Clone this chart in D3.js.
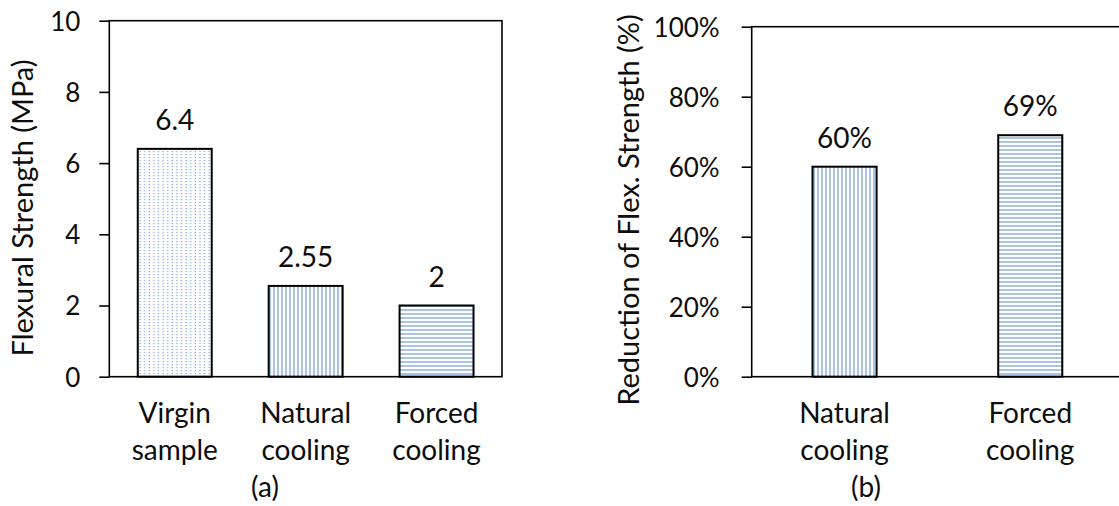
<!DOCTYPE html>
<html>
<head>
<meta charset="utf-8">
<script src="https://cdn.jsdelivr.net/npm/d3@7"></script>
<style>
  html, body { margin: 0; padding: 0; background: #fff; }
  svg { display: block; }
  text { font-family: Lato, "Open Sans", sans-serif; fill: #0d0d0d; }
</style>
</head>
<body>
<script>
// ---------------- data ----------------
const categoriesA = ["Virgin sample", "Natural cooling", "Forced cooling"];
const valuesA = [6.4, 2.55, 2];
const ticksA = [0, 2, 4, 6, 8, 10];
const titleA = "Flexural Strength (MPa)";
const captionA = "(a)";

const categoriesB = ["Natural cooling", "Forced cooling"];
const valuesB = [0.60, 0.69];
const ticksB = [0, 0.2, 0.4, 0.6, 0.8, 1.0];
const titleB = "Reduction of Flex. Strength (%)";
const captionB = "(b)";

// ---------------- styles ----------------
const fillByCategory = {
  "Virgin sample": "url(#dots)",
  "Natural cooling": "url(#vlines)",
  "Forced cooling": "url(#hlines)"
};
const FONT = 28, TICKFONT = 26, TITLEFONT = 29;
const patColor = "#7099d6";

const svg = d3.select("body").append("svg")
  .attr("width", 1119).attr("height", 506);

const defs = svg.append("defs");
const pd = defs.append("pattern").attr("id", "dots")
  .attr("patternUnits", "userSpaceOnUse").attr("width", 4.6).attr("height", 3);
pd.append("rect").attr("width", 4.6).attr("height", 3).attr("fill", "#fff");
pd.append("rect").attr("x", 1.5).attr("y", 1).attr("width", 1.2).attr("height", 1.2).attr("fill", "#7fa6dc");

const pv = defs.append("pattern").attr("id", "vlines")
  .attr("patternUnits", "userSpaceOnUse").attr("width", 4).attr("height", 4);
pv.append("rect").attr("width", 4).attr("height", 4).attr("fill", "#fff");
pv.append("line").attr("x1", 2).attr("x2", 2).attr("y1", 0).attr("y2", 4)
  .attr("stroke", patColor).attr("stroke-width", 1.2);

const ph = defs.append("pattern").attr("id", "hlines")
  .attr("patternUnits", "userSpaceOnUse").attr("width", 4).attr("height", 4);
ph.append("rect").attr("width", 4).attr("height", 4).attr("fill", "#fff");
ph.append("line").attr("y1", 2).attr("y2", 2).attr("x1", 0).attr("x2", 4)
  .attr("stroke", patColor).attr("stroke-width", 1.2);

function panel(cfg) {
  const g = svg.append("g");
  const x = d3.scaleBand().domain(cfg.categories).range(cfg.xRange)
    .paddingInner(cfg.pad).paddingOuter(cfg.pad / 2);
  const y = d3.scaleLinear().domain(cfg.yDomain).range(cfg.yRange);

  // bars
  g.selectAll("rect.bar").data(cfg.values).join("rect")
    .attr("class", "bar")
    .attr("x", (d, i) => x(cfg.categories[i]))
    .attr("y", d => y(d))
    .attr("width", x.bandwidth())
    .attr("height", d => y(0) - y(d))
    .attr("fill", (d, i) => fillByCategory[cfg.categories[i]])
    .attr("stroke", "#000").attr("stroke-width", 2);

  // plot-area box
  g.append("rect")
    .attr("x", cfg.xRange[0]).attr("y", cfg.yRange[1])
    .attr("width", cfg.xRange[1] - cfg.xRange[0])
    .attr("height", cfg.yRange[0] - cfg.yRange[1])
    .attr("fill", "none").attr("stroke", "#000").attr("stroke-width", 1.6);

  // y axis
  const ax = g.append("g").attr("transform", `translate(${cfg.xRange[0]},0)`)
    .call(d3.axisLeft(y).tickValues(cfg.ticks).tickSize(10)
      .tickPadding(cfg.tickPad).tickFormat(cfg.fmt));
  ax.select(".domain").remove();
  ax.selectAll(".tick line").attr("stroke", "#000").attr("stroke-width", 1.6);
  ax.selectAll(".tick text").attr("font-size", TICKFONT)
    .attr("font-family", "Lato").attr("fill", "#0d0d0d").attr("dy", "0.36em");

  // value labels
  g.selectAll("text.val").data(cfg.values).join("text")
    .attr("class", "val")
    .attr("x", (d, i) => x(cfg.categories[i]) + x.bandwidth() / 2)
    .attr("y", d => y(d) - 19)
    .attr("text-anchor", "middle").attr("font-size", FONT)
    .text(cfg.valFmt);

  // category labels (two lines)
  const cat = g.selectAll("text.cat").data(cfg.categories).join("text")
    .attr("class", "cat")
    .attr("text-anchor", "middle").attr("font-size", FONT);
  cat.each(function (c) {
    const parts = c.split(" ");
    const t = d3.select(this);
    const cx = x(c) + x.bandwidth() / 2;
    parts.forEach((p, k) => {
      t.append("tspan").attr("x", cx).attr("y", y(0) + 46.5 + k * 37).text(p);
    });
  });

  // y title
  g.append("text")
    .attr("transform", `translate(${cfg.titleX},${cfg.titleY}) rotate(-90)`)
    .attr("text-anchor", "middle").attr("font-size", TITLEFONT)
    .text(cfg.title);

  // caption
  g.append("text").attr("x", cfg.capX).attr("y", 497)
    .attr("text-anchor", "middle").attr("font-size", FONT)
    .text(cfg.caption);
}

panel({
  categories: categoriesA, values: valuesA, ticks: ticksA,
  xRange: [109.3, 502], yRange: [376.7, 20.7], yDomain: [0, 10], pad: 0.435,
  tickPad: 19, fmt: d3.format("d"), valFmt: d => String(d),
  title: titleA, titleX: 33.3, titleY: 208, caption: captionA, capX: 265
});

panel({
  categories: categoriesB, values: valuesB, ticks: ticksB,
  xRange: [751.7, 1123.1], yRange: [376.7, 26.7], yDomain: [0, 1], pad: 0.655,
  tickPad: 22, fmt: d3.format(".0%"), valFmt: d3.format(".0%"),
  title: titleB, titleX: 639, titleY: 210, caption: captionB, capX: 866
});
</script>
</body>
</html>
